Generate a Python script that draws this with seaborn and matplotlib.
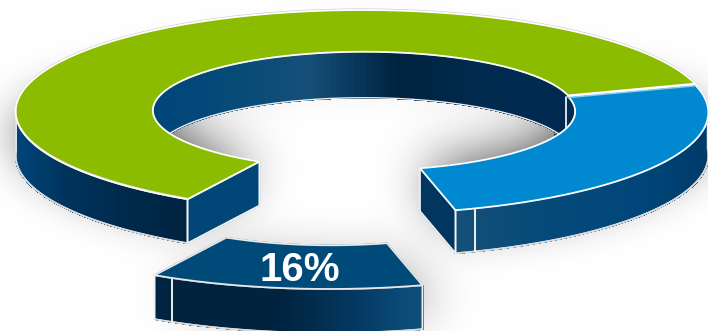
import numpy as np
import matplotlib
matplotlib.use("Agg")
import matplotlib.pyplot as plt
from matplotlib.path import Path
import seaborn as sns

# Share of each ring slice, counter-clockwise starting at the front slice
slice_names = ["Front", "Blue", "Green"]
slice_values = [16, 26, 58]
slice_labels = ["16%", "", ""]
top_colors = ["#004A7A", "#0088D0", "#8CBC00"]
end_colors = {"Blue": "#003660", "Green": "#004677"}

sns.set_theme(style="white")
plt.rcParams["font.family"] = ["Liberation Sans", "DejaVu Sans"]

W, H = 708, 331
CX, CY, A, B, K = 362.0, 107.0, 346.0, 101.3, 0.0443
INNER_X, INNER_Y = 0.61, 0.58
INNER_CX, INNER_CY = 364.0, 109.0
DEPTH = 44.0
FRONT_MID = np.radians(-97.0)
WARP = -0.247
EXPLODE = np.array([-33.0, 76.0])


def warp(alpha):
    d = alpha - FRONT_MID
    return FRONT_MID + d + WARP * np.sin(d)


def outer(theta):
    x, y = np.cos(theta), -np.sin(theta)
    w = 1 - K * y
    return np.column_stack([CX + A * x / w, CY + B * y / w])


def inner(theta):
    x, y = INNER_X * np.cos(theta), -INNER_Y * np.sin(theta)
    w = 1 - K * y
    return np.column_stack([INNER_CX + A * x / w, INNER_CY + B * y / w])


def wall_color(stops, value):
    pos = [s[0] for s in stops]
    rgb = np.array([matplotlib.colors.to_rgb(s[1]) for s in stops])
    return [np.interp(value, pos, rgb[:, i]) for i in range(3)]


# Wall shading, keyed by horizontal position on the ring
outer_stops = [(15, "#00457A"), (60, "#00355F"), (120, "#002A4C"), (190, "#00233F"),
               (300, "#00233F"), (380, "#053A62"), (420, "#0A4A78"), (455, "#155078"),
               (540, "#054A78"), (640, "#00467A"), (708, "#003A68")]
inner_stops = [(152, "#00457A"), (230, "#064A78"), (310, "#155078"), (350, "#0A3A60"),
               (400, "#00233F"), (480, "#002A4E"), (573, "#002A50")]

# Slice boundaries derived from the values
sweeps = np.radians(np.array(slice_values) / np.sum(slice_values) * 360.0)
starts = FRONT_MID - sweeps[0] / 2 + np.concatenate([[0], np.cumsum(sweeps)[:-1]])
arcs = {n: warp(np.linspace(s, s + d, 160))
        for n, s, d in zip(slice_names, starts, sweeps)}


def top_poly(theta, off=(0, 0)):
    return np.vstack([outer(theta), inner(theta)[::-1]]) + np.array(off)


def draw_outer_wall(ax, theta, off=(0, 0), z=3):
    mask = np.sin(theta) < 0.02
    th = theta[mask]
    p = outer(th) + np.array(off)
    for i in range(0, len(th) - 1):
        q = np.vstack([p[i:i + 2], p[i:i + 2][::-1] + [0, DEPTH]])
        ax.fill(q[:, 0], q[:, 1], color=wall_color(outer_stops, p[i, 0] - off[0] * 0.6),
                lw=0.8, antialiased=False, zorder=z)
    edge = np.vstack([p, p[::-1] + [0, DEPTH], p[:1]])
    ax.plot(edge[:, 0], edge[:, 1], color="#F2F2F2", lw=1.3, zorder=z + 0.1)
    bottom = p + [0, DEPTH]
    ax.plot(bottom[:, 0], bottom[:, 1], color="#D9D9D9", lw=1.0, zorder=z + 0.1)


def draw_inner_wall(ax, theta, z=2):
    mask = np.sin(theta) > -0.45
    th = theta[mask]
    p = inner(th)
    for i in range(0, len(th) - 1):
        q = np.vstack([p[i:i + 2], p[i:i + 2][::-1] + [0, DEPTH + 2]])
        ax.fill(q[:, 0], q[:, 1], color=wall_color(inner_stops, p[i, 0]),
                lw=0.8, antialiased=False, zorder=z)
    bottom = p + [0, DEPTH + 2]
    ax.plot(bottom[:, 0], bottom[:, 1], color="#EDEDED", lw=1.0, zorder=z + 0.1)


fig = plt.figure(figsize=(W / 100, H / 100), dpi=100)
ax = fig.add_axes([0, 0, 1, 1])
ax.set_xlim(0, W)
ax.set_ylim(H, 0)
ax.axis("off")

# Soft shadows on a pixel grid: a faint one for the whole ring, a stronger
# one under the front half of the ring and the pulled-out slice
yy, xx = np.mgrid[0:H + 120, -60:W + 60]
pts = np.column_stack([xx.ravel(), yy.ravel()])


def poly_mask(poly):
    return Path(poly).contains_points(pts).reshape(xx.shape).astype(float)


def blurred(mask, sigma):
    fy = np.fft.fftfreq(mask.shape[0])[:, None]
    fx = np.fft.rfftfreq(mask.shape[1])[None, :]
    kernel = np.exp(-2 * (np.pi * sigma) ** 2 * (fx ** 2 + fy ** 2))
    return np.clip(np.fft.irfft2(np.fft.rfft2(mask) * kernel, s=mask.shape), 0, 1)


ring = np.zeros(xx.shape)
front = np.zeros(xx.shape)
for name in slice_names:
    if name == "Front":
        m = poly_mask(top_poly(arcs[name], EXPLODE + [14, 22]))
        front = np.maximum(front, 0.75 * m)
    else:
        ring = np.maximum(ring, poly_mask(top_poly(arcs[name], (0, 22))))
        lower = arcs[name][np.sin(arcs[name]) < -0.12]
        front = np.maximum(front, poly_mask(top_poly(lower, (0, -4))))
fade = np.clip((yy - 40) / 120, 0, 1)
darkness = 0.32 * blurred(ring, 22) * (0.25 + 0.75 * fade) + 0.62 * blurred(front, 27)
ax.imshow(1 - np.clip(darkness, 0, 0.6), cmap="gray", vmin=0, vmax=1, aspect="auto",
          extent=(-60, W + 60, H + 120, 0), zorder=0, interpolation="bilinear")
ax.set_xlim(0, W)
ax.set_ylim(H, 0)

# Inner walls stay behind the top faces
draw_inner_wall(ax, arcs["Green"])
draw_inner_wall(ax, arcs["Blue"])
seam = arcs["Green"][0]
p = inner(np.array([seam]))[0]
ax.plot([p[0] - 2, p[0] - 2], [p[1] + 2, p[1] + DEPTH - 6], color="white", lw=1.2, zorder=2.2)

# Outer walls and the cut faces of the two ring slices
draw_outer_wall(ax, arcs["Green"])
draw_outer_wall(ax, arcs["Blue"])

for name, th in (("Green", arcs["Green"][-1]), ("Blue", arcs["Blue"][0])):
    a, b = outer(np.array([th]))[0], inner(np.array([th]))[0]
    q = np.array([a, b, b + [0, DEPTH], a + [0, DEPTH], a])
    ax.fill(q[:, 0], q[:, 1], color=end_colors[name], zorder=3.5)
    ax.plot(q[:, 0], q[:, 1], color="#F4F4F4", lw=1.3, zorder=3.6)

# Top faces
for name, color in zip(slice_names, top_colors):
    if name == "Front":
        continue
    off = (0, 1) if name == "Blue" else (0, 0)
    q = top_poly(arcs[name], off)
    ax.fill(q[:, 0], q[:, 1], color=color, zorder=4)
    closed = np.vstack([q, q[:1]])
    ax.plot(closed[:, 0], closed[:, 1], color="white", lw=1.3, zorder=4.2)

s0 = outer(arcs["Green"][:1])[0]
s1 = inner(arcs["Green"][:1])[0]
ax.plot([s0[0], s1[0]], [s0[1] + 2.2, s1[1] + 2.2], color="#8CCBEE", lw=1.0, zorder=4.3)
o = outer(arcs["Green"])
ax.plot(o[:, 0], o[:, 1] - 1, color="#CFCFCF", lw=0.8, zorder=4.1)

# Facet line close to the left end of the blue wall
th = arcs["Blue"][0] + np.radians(3.2)
f = outer(np.array([th]))[0]
ax.plot([f[0], f[0]], [f[1] + 1, f[1] + DEPTH], color="white", lw=1.3, zorder=3.6)

# Pulled-out front slice
draw_outer_wall(ax, arcs["Front"], EXPLODE, z=5)
th = arcs["Front"][0] + np.radians(3.2)
f = outer(np.array([th]))[0] + EXPLODE
ax.plot([f[0], f[0]], [f[1] + 1, f[1] + DEPTH], color="white", lw=1.3, zorder=5.2)
q = top_poly(arcs["Front"], EXPLODE)
ax.fill(q[:, 0], q[:, 1], color=top_colors[0], zorder=5.5)
closed = np.vstack([q, q[:1]])
ax.plot(closed[:, 0], closed[:, 1], color="#E8E8E8", lw=1.3, zorder=5.6)
ax.text(q[:, 0].mean() + 4, q[:, 1].mean() + 6, slice_labels[0], color="white", fontsize=29,
        fontweight="bold", ha="center", va="center", zorder=6)

fig.savefig("out.png", dpi=100, facecolor="white")
